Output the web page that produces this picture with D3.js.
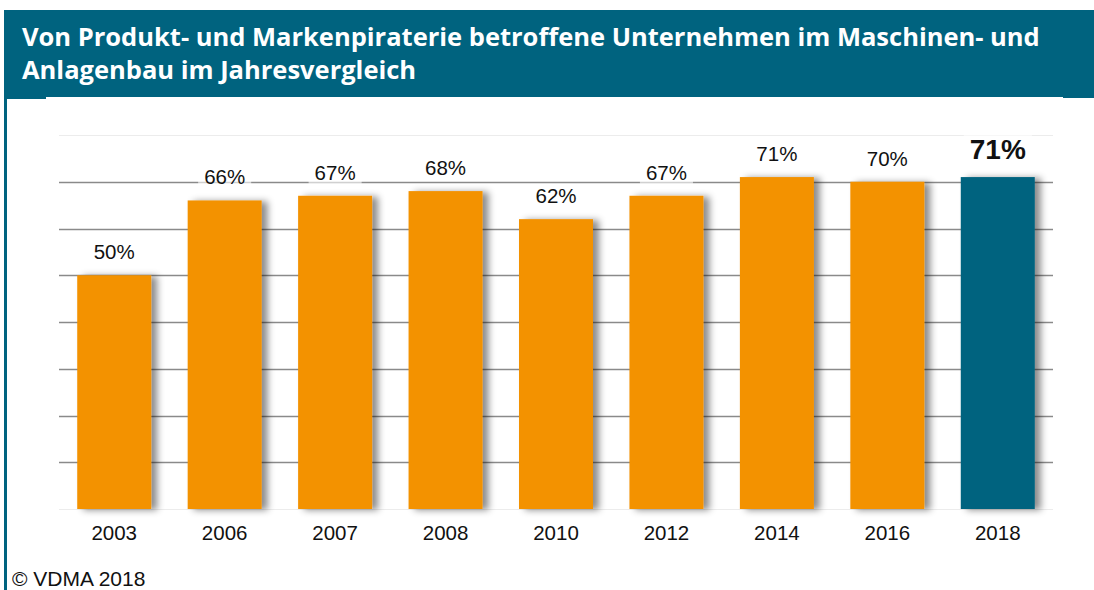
<!DOCTYPE html>
<html>
<head>
<meta charset="utf-8">
<script src="https://cdn.jsdelivr.net/npm/d3@7"></script>
<style>
  html, body { margin: 0; padding: 0; background: #fff; }
  svg { display: block; }
</style>
</head>
<body>
<div id="chart"></div>
<script>
// data
const years = ["2003", "2006", "2007", "2008", "2010", "2012", "2014", "2016", "2018"];
const shares = [50, 66, 67, 68, 62, 67, 71, 70, 71];
const titleLines = [
  "Von Produkt- und Markenpiraterie betroffene Unternehmen im Maschinen- und",
  "Anlagenbau im Jahresvergleich",
];
const gridTicks = [0, 10, 20, 30, 40, 50, 60, 70, 80];
const sourceText = "\u00A9 VDMA 2018";

const W = 1094, H = 590;
const blue = "#00637f";
const orange = "#f39200";

const svg = d3.select("#chart").append("svg")
  .attr("width", W)
  .attr("height", H);

// shadow behind the bars
const defs = svg.append("defs");
const shadow = defs.append("filter")
  .attr("id", "barShadow")
  .attr("x", "-20%").attr("y", "-10%")
  .attr("width", "160%").attr("height", "130%");
shadow.append("feDropShadow")
  .attr("dx", 6).attr("dy", 1)
  .attr("stdDeviation", 3.5)
  .attr("flood-color", "#000")
  .attr("flood-opacity", 0.45);

// header band + left border
svg.append("rect").attr("x", 4).attr("y", 10).attr("width", W - 4).attr("height", 87).attr("fill", blue);
svg.append("rect").attr("x", 4).attr("y", 96).attr("width", 42).attr("height", 3).attr("fill", blue);
svg.append("rect").attr("x", 1063).attr("y", 96).attr("width", W - 1063).attr("height", 2).attr("fill", blue);
svg.append("rect").attr("x", 4).attr("y", 10).attr("width", 3).attr("height", H - 10).attr("fill", blue);

const title = svg.append("g")
  .selectAll("text")
  .data(titleLines)
  .join("text")
  .attr("x", 22)
  .attr("y", (d, i) => 46 + i * 33)
  .attr("fill", "#fff")
  .attr("font-family", "'Open Sans', 'Noto Sans', sans-serif")
  .attr("font-weight", 700)
  .attr("font-size", 25)
  .text((d) => d);

// fit first title line to its width in the reference
const firstLen = title.node().getComputedTextLength();
const fs = 25 * 1018 / firstLen;
title.attr("font-size", fs);

// scales
const x = d3.scaleBand()
  .domain(years)
  .range([59, 1053])
  .paddingInner(0.33)
  .paddingOuter(0.165);

const y = d3.scaleLinear()
  .domain([0, 80])
  .range([509, 135]);

// gridlines
svg.append("g")
  .selectAll("line")
  .data(gridTicks)
  .join("line")
  .attr("x1", 59)
  .attr("x2", 1053)
  .attr("y1", (d) => Math.round(y(d)) + 0.5)
  .attr("y2", (d) => Math.round(y(d)) + 0.5)
  .attr("stroke", (d) => (d === 0 || d === 80 ? "#ececec" : "#8a8a8a"))
  .attr("stroke-width", (d) => (d === 0 || d === 80 ? 1 : 1.6));

// bars
svg.append("g")
  .selectAll("rect")
  .data(shares)
  .join("rect")
  .attr("x", (d, i) => x(years[i]))
  .attr("y", (d) => y(d))
  .attr("width", x.bandwidth())
  .attr("height", (d) => y(0) - y(d))
  .attr("fill", (d, i) => (i === years.length - 1 ? blue : orange))
  .attr("filter", "url(#barShadow)");

// value labels
const labels = svg.append("g")
  .selectAll("g")
  .data(shares)
  .join("g")
  .attr("transform", (d, i) => {
    const last = i === years.length - 1;
    return `translate(${x(years[i]) + x.bandwidth() / 2},${y(d) - (last ? 18 : 16)})`;
  });

labels.append("text")
  .attr("text-anchor", "middle")
  .attr("font-family", "'Liberation Sans', Arial, sans-serif")
  .attr("font-size", (d, i) => (i === years.length - 1 ? 28 : 20.5))
  .attr("font-weight", (d, i) => (i === years.length - 1 ? 700 : 400))
  .attr("fill", "#111")
  .text((d) => d + "%");

// semi-transparent box behind each label
labels.each(function () {
  const g = d3.select(this);
  const bb = g.select("text").node().getBBox();
  g.insert("rect", "text")
    .attr("x", bb.x - 6)
    .attr("y", bb.y)
    .attr("width", bb.width + 12)
    .attr("height", bb.height)
    .attr("fill", "#fff")
    .attr("opacity", 0.6);
});

// year axis labels
svg.append("g")
  .selectAll("text")
  .data(years)
  .join("text")
  .attr("x", (d) => x(d) + x.bandwidth() / 2)
  .attr("y", 540)
  .attr("text-anchor", "middle")
  .attr("font-family", "'Liberation Sans', Arial, sans-serif")
  .attr("font-size", 20.5)
  .attr("fill", "#111")
  .text((d) => d);

// source
svg.append("text")
  .attr("x", 12)
  .attr("y", 586)
  .attr("font-family", "'Liberation Sans', Arial, sans-serif")
  .attr("font-size", 21)
  .attr("fill", "#111")
  .text(sourceText);
</script>
</body>
</html>
